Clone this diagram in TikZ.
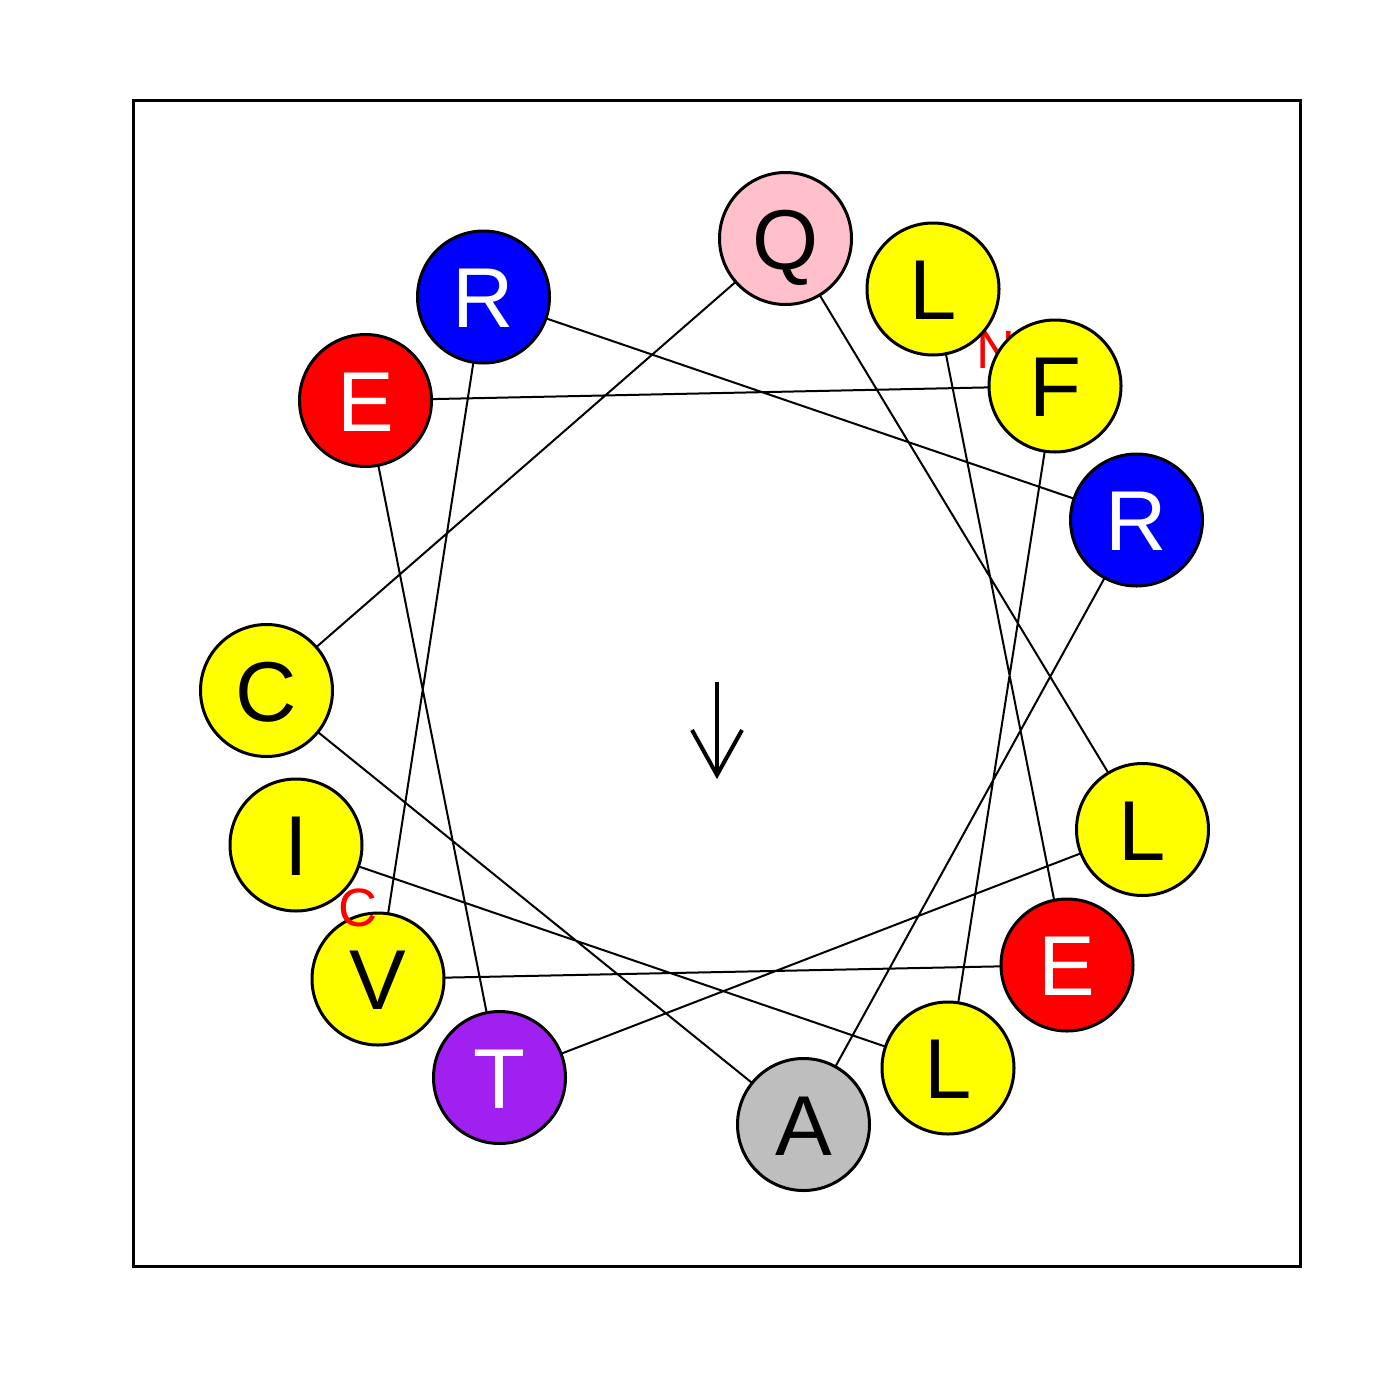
\documentclass[tikz,border=0pt]{standalone}
\usepackage{fontspec}
\setmainfont{Liberation Sans}
\definecolor{rpink}{RGB}{255,192,203}
\definecolor{rgray}{RGB}{190,190,190}
\definecolor{rpurple}{RGB}{160,32,240}
\definecolor{ryellow}{RGB}{255,255,0}
\definecolor{rred}{RGB}{255,0,0}
\definecolor{rblue}{RGB}{0,0,255}
\tikzset{
  res/.style={circle, draw=black, line width=3pt, minimum size=132pt, inner sep=0pt,
    font=\fontsize{85}{85}\selectfont, text height=61pt, text depth=0pt},
  bond/.style={line width=2pt, black},
  term/.style={text=rred, font=\fontsize{54}{54}\selectfont, inner sep=0pt, text height=38pt, text depth=0pt},
}
\begin{document}
\begin{tikzpicture}[x=1pt,y=-1pt]
\useasboundingbox (0,0) rectangle (1400,1400);
\draw[line width=3pt] (133.5,100) rectangle (1300,1266);
% residue centres
\coordinate (p1) at (933,289);    % L
\coordinate (p2) at (1067,965);   % E
\coordinate (p3) at (378,979);    % V
\coordinate (p4) at (483.5,297);  % R
\coordinate (p5) at (1136.5,520); % R
\coordinate (p6) at (803.5,1124.5); % A
\coordinate (p7) at (266.5,690.5); % C
\coordinate (p8) at (785.5,238.5); % Q
\coordinate (p9) at (1142.5,829.5); % L
\coordinate (p10) at (499.5,1077.5); % T
\coordinate (p11) at (365.5,400.5); % E
\coordinate (p12) at (1055,386);  % F
\coordinate (p13) at (948,1068);  % L
\coordinate (p14) at (296,845);   % I
% bonds
\draw[bond] (p1) -- (p2) -- (p3) -- (p4) -- (p5) -- (p6) -- (p7) -- (p8) -- (p9) -- (p10) -- (p11) -- (p12) -- (p13) -- (p14);
% N terminus label (under the circles)
\node[term] (nlab) at (996,349) {N};
% residues
\node[res, fill=ryellow] (r1) at (p1) {L};
\node[res, fill=rred, text=white] (r2) at (p2) {E};
\node[res, fill=ryellow] (r3) at (p3) {V};
\node[res, fill=rblue, text=white] (r4) at (p4) {R};
\node[res, fill=rblue, text=white] (r5) at (p5) {R};
\node[res, fill=rgray] (r6) at (p6) {A};
\node[res, fill=ryellow] (r7) at (p7) {C};
\node[res, fill=rpink] (r8) at (p8) {Q};
\node[res, fill=ryellow] (r9) at (p9) {L};
\node[res, fill=rpurple, text=white] (r10) at (p10) {T};
\node[res, fill=rred, text=white] (r11) at (p11) {E};
\node[res, fill=ryellow] (r12) at (p12) {F};
\node[res, fill=ryellow] (r13) at (p13) {L};
\node[res, fill=ryellow] (r14) at (p14) {I};
% C terminus label (over the circles)
\node[term] (clab) at (358,907) {C};
% moment arrow
\coordinate (atop) at (717,682);
\coordinate (atip) at (717,775);
\coordinate (aleft) at (692,730);
\coordinate (aright) at (742,730);
\draw[line width=4pt] (atop) -- (atip);
\draw[line width=4pt, line join=miter] (aleft) -- (atip) -- (aright);
\end{tikzpicture}
\end{document}
